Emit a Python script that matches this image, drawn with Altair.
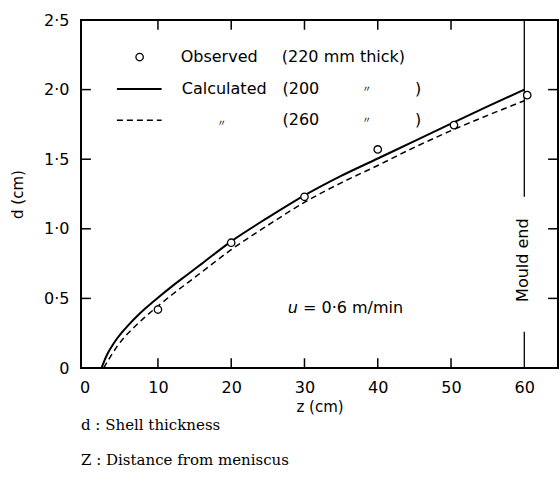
import altair as alt
import pandas as pd

# ---- data ----
obs_z = [10, 20, 30, 40, 50.4, 60.4]
obs_d = [0.42, 0.90, 1.23, 1.57, 1.745, 1.96]

calc200_z = [2.3, 3, 4, 5, 6, 7, 8, 9, 10, 12, 14, 16, 20, 25, 30, 35, 40, 45, 50, 55, 60]
calc200_d = [0, 0.09, 0.18, 0.25, 0.31, 0.365, 0.415, 0.46, 0.505, 0.59, 0.67, 0.75, 0.91,
             1.08, 1.24, 1.38, 1.505, 1.63, 1.755, 1.88, 2.0]

calc260_z = [2.6, 3.5, 4.5, 5.5, 6.5, 8, 10, 12, 14, 16, 20, 25, 30, 35, 40, 45, 50, 55, 60]
calc260_d = [0, 0.08, 0.16, 0.225, 0.28, 0.355, 0.445, 0.53, 0.61, 0.69, 0.85,
             1.025, 1.19, 1.33, 1.455, 1.585, 1.705, 1.815, 1.92]

x_ticks = [0, 10, 20, 30, 40, 50, 60]
y_ticks = [0, 0.5, 1.0, 1.5, 2.0, 2.5]
inner_x_ticks = [10, 20, 30, 40, 50]
inner_y_ticks = [0.5, 1.0, 1.5, 2.0]
mould_z = 60

legend_texts = ["Observed", "(220 mm thick)", "Calculated", "(200", "(260"]
close_texts = [")", ")"]
ditto_text = "\u3003"
speed_symbol = "u"
speed_text = "= 0·6 m/min"
mould_text = "Mould end"
footnotes = ["d : Shell thickness", "Z : Distance from meniscus"]

# ---- layout / style ----
X_DOM = [-0.5, 64.6]
Y_DOM = [0, 2.5]
FONT = "DejaVu Sans"
FS = 16

xs = alt.Scale(domain=X_DOM, nice=False, zero=False)
ys = alt.Scale(domain=Y_DOM, nice=False, zero=False)

xax = alt.Axis(values=x_ticks, ticks=False, domain=False, grid=False,
               labelFont=FONT, labelFontSize=FS, labelPadding=11, labelColor="black",
               labelFlush=False, title="z  (cm)", titleFont=FONT, titleFontSize=15,
               titleFontWeight="normal", titleColor="black", titlePadding=4)
yax = alt.Axis(values=y_ticks, ticks=False, domain=False, grid=False,
               labelFont=FONT, labelFontSize=FS, labelPadding=12, labelColor="black",
               labelFlush=False,
               labelExpr="datum.value == 0 ? '0' : replace(format(datum.value, '.1f'), '.', '·')",
               title="d  (cm)", titleFont=FONT, titleFontSize=15, titleFontWeight="normal",
               titleColor="black", titlePadding=18)

X = lambda f="z": alt.X(f"{f}:Q", scale=xs, axis=xax)
Y = lambda f="d": alt.Y(f"{f}:Q", scale=ys, axis=yax)

obs_df = pd.DataFrame({"z": obs_z, "d": obs_d})
c200 = pd.DataFrame({"z": calc200_z, "d": calc200_d})
c260 = pd.DataFrame({"z": calc260_z, "d": calc260_d})

obs = alt.Chart(obs_df).mark_point(shape="circle", filled=True, fill="white", stroke="black",
                                   strokeWidth=1.3, size=55, opacity=1).encode(x=X(), y=Y())

line200 = alt.Chart(c200).mark_line(color="black", strokeWidth=2, interpolate="monotone").encode(x=X(), y=Y())
line260 = alt.Chart(c260).mark_line(color="black", strokeWidth=1.5, strokeDash=[6, 4],
                                    interpolate="monotone").encode(x=X(), y=Y())

# inward tick marks on all four sides
rows = []
for v in inner_x_ticks:
    rows.append({"z": v, "z2": v, "d": Y_DOM[0], "d2": Y_DOM[0] + 0.07})
    rows.append({"z": v, "z2": v, "d": Y_DOM[1], "d2": Y_DOM[1] - 0.07})
for v in inner_y_ticks:
    rows.append({"z": X_DOM[0], "z2": X_DOM[0] + 1.35, "d": v, "d2": v})
    rows.append({"z": X_DOM[1], "z2": X_DOM[1] - 1.35, "d": v, "d2": v})
ticks = alt.Chart(pd.DataFrame(rows)).mark_rule(color="black", strokeWidth=1.5).encode(
    x=X(), x2="z2:Q", y=Y(), y2="d2:Q")

# mould end line (broken around label)
mould_df = pd.DataFrame({"z": [mould_z, mould_z], "d": [2.5, 0.0], "d2": [1.23, 0.26]})
mould = alt.Chart(mould_df).mark_rule(color="black", strokeWidth=1.3).encode(x=X(), y=Y(), y2="d2:Q")
mould_lbl = alt.Chart(pd.DataFrame({"z": [59.8], "d": [0.775], "t": [mould_text]})).mark_text(
    font=FONT, fontSize=FS, angle=270, align="center", baseline="middle", color="black").encode(
    x=X(), y=Y(), text="t:N")

# legend
leg_sym = alt.Chart(pd.DataFrame({"z": [7.5], "d": [2.234]})).mark_point(
    shape="circle", filled=True, fill="white", stroke="black", strokeWidth=1.3, size=55, opacity=1).encode(x=X(), y=Y())
leg_solid = alt.Chart(pd.DataFrame({"z": [4.4], "z2": [10.5], "d": [2.004]})).mark_rule(
    color="black", strokeWidth=2).encode(x=X(), x2="z2:Q", y=Y())
leg_dash = alt.Chart(pd.DataFrame({"z": [4.4], "z2": [10.5], "d": [1.78]})).mark_rule(
    color="black", strokeWidth=1.5, strokeDash=[6, 4]).encode(x=X(), x2="z2:Q", y=Y())
leg_txt = alt.Chart(pd.DataFrame({"t": legend_texts,
                                  "z": [13.1, 26.9, 13.25, 27.0, 27.0],
                                  "d": [2.234, 2.234, 2.004, 2.004, 1.78]})).mark_text(
    font=FONT, fontSize=FS, align="left", baseline="middle", color="black").encode(x=X(), y=Y(), text="t:N")
leg_close = alt.Chart(pd.DataFrame({"t": close_texts, "z": [45.5, 45.5], "d": [2.004, 1.78]})).mark_text(
    font=FONT, fontSize=FS, align="center", baseline="middle", color="black").encode(x=X(), y=Y(), text="t:N")
leg_ditto = alt.Chart(pd.DataFrame({"t": [ditto_text] * 3, "z": [38.5, 18.7, 38.5],
                                    "d": [2.004, 1.76, 1.78]})).mark_text(
    font="Noto Sans CJK JP", fontSize=9, align="center", baseline="middle", color="black").encode(
    x=X(), y=Y(), text="t:N")

u_sym = alt.Chart(pd.DataFrame({"t": [speed_symbol], "z": [28.4], "d": [0.43]})).mark_text(
    font=FONT, fontSize=FS, fontStyle="italic", align="center", baseline="middle", color="black").encode(
    x=X(), y=Y(), text="t:N")
u_txt = alt.Chart(pd.DataFrame({"t": [speed_text], "z": [29.8], "d": [0.43]})).mark_text(
    font=FONT, fontSize=FS, align="left", baseline="middle", color="black").encode(
    x=X(), y=Y(), text="t:N")

chart = alt.layer(
    line200, line260, ticks, mould, mould_lbl,
    leg_sym, leg_solid, leg_dash, leg_txt, leg_close, leg_ditto, u_sym, u_txt, obs
).properties(
    width=477, height=348,
    title=alt.TitleParams(text=footnotes, orient="bottom", anchor="start", frame="group",
                          font="DejaVu Serif", fontSize=15, fontWeight="normal", color="black",
                          lineHeight=35, offset=4),
    autosize=alt.AutoSizeParams(type="none"),
    padding={"left": 81, "top": 20, "right": 2, "bottom": 121},
    background="white",
).configure_view(stroke="black", strokeWidth=2)

chart.save("out.html", embed_options={"renderer": "svg", "actions": False})
